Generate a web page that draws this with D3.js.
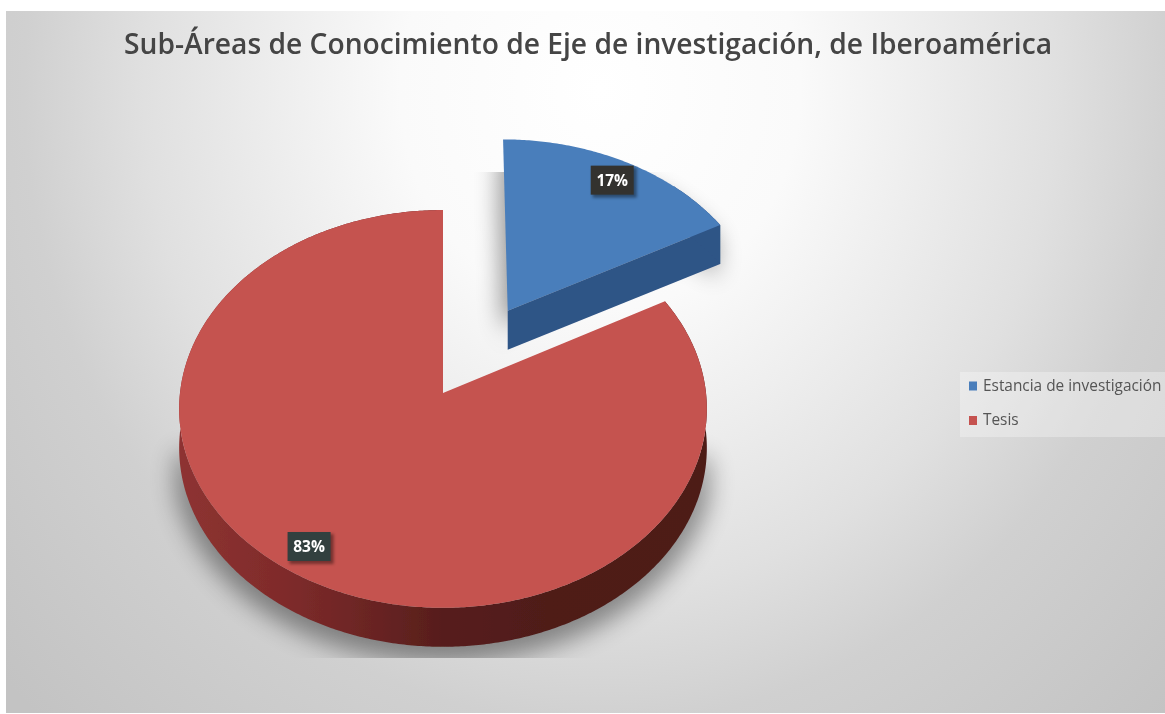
<!DOCTYPE html>
<html>
<head>
<meta charset="utf-8">
<script src="https://d3js.org/d3.v7.min.js"></script>
<style>
  html, body { margin: 0; padding: 0; background: #fff; }
  svg { display: block; }
</style>
</head>
<body>
<svg id="chart"></svg>
<script>
const categories = ['Estancia de investigación', 'Tesis'];
const shares = [17, 83];
const shareLabels = ['17%', '83%'];
const chartTitle = 'Sub-Áreas de Conocimiento de Eje de investigación, de Iberoamérica';

const WIDTH = 1165;
const HEIGHT = 714;
const PIE_X = 443;
const PIE_Y = 393;
const RADIUS_X = 263;
const RADIUS_Y = 197.6;
const PERSPECTIVE = 0.08;
const DEPTH = 39;
const EXPLODE = [0.5, 0];
const LABEL_RADIUS = [0.88, 0.87];
const LABEL_TURN = [0, 3];
const TOP_COLORS = ['#4a7ebb', '#c5524f'];
const SIDE_BLUE = '#2f5486';

const svg = d3.select('#chart').attr('width', WIDTH).attr('height', HEIGHT);
const defs = svg.append('defs');

const bg = defs.append('radialGradient')
  .attr('id', 'bg')
  .attr('gradientUnits', 'userSpaceOnUse')
  .attr('cx', 0).attr('cy', 0).attr('r', 1)
  .attr('gradientTransform', 'translate(600,90) scale(800,880)');
[[0, '#ffffff'], [0.25, '#fafafa'], [0.57, '#e0e0e0'], [0.72, '#d0d0d0'], [1, '#c3c3c3']]
  .forEach(([o, c]) => bg.append('stop').attr('offset', o).attr('stop-color', c));

const redSide = defs.append('linearGradient')
  .attr('id', 'red-side')
  .attr('gradientUnits', 'userSpaceOnUse')
  .attr('x1', 178).attr('x2', 705).attr('y1', 0).attr('y2', 0);
[[0, '#8e3331'], [0.2, '#7f2b2b'], [0.35, '#6c2524'], [0.5, '#571e1c'], [0.7, '#4f1b19'], [1, '#4e1b18']]
  .forEach(([o, c]) => redSide.append('stop').attr('offset', o).attr('stop-color', c));

defs.append('filter').attr('id', 'shadow-blur')
  .attr('x', '-30%').attr('y', '-30%').attr('width', '160%').attr('height', '160%')
  .append('feGaussianBlur').attr('stdDeviation', 12);
defs.append('filter').attr('id', 'soft')
  .attr('x', '-5%').attr('y', '-20%').attr('width', '110%').attr('height', '140%')
  .append('feGaussianBlur').attr('stdDeviation', 0.45);
defs.append('filter').attr('id', 'edge')
  .attr('x', '-5%').attr('y', '-5%').attr('width', '110%').attr('height', '110%')
  .append('feGaussianBlur').attr('stdDeviation', 0.6);
defs.append('filter').attr('id', 'label-shadow')
  .attr('x', '-30%').attr('y', '-30%').attr('width', '160%').attr('height', '160%')
  .append('feGaussianBlur').attr('stdDeviation', 1.5);

defs.append('clipPath').attr('id', 'clip-blue')
  .append('rect').attr('x', 0).attr('y', 172).attr('width', WIDTH).attr('height', 220);
defs.append('clipPath').attr('id', 'clip-red')
  .append('rect').attr('x', 0).attr('y', 300).attr('width', WIDTH).attr('height', 358);

svg.append('rect')
  .attr('x', 6).attr('y', 11)
  .attr('width', WIDTH - 6).attr('height', HEIGHT - 12)
  .attr('fill', 'url(#bg)');

svg.append('text')
  .attr('x', 588).attr('y', 54)
  .attr('text-anchor', 'middle')
  .attr('filter', 'url(#soft)')
  .style('font-family', '"Open Sans", sans-serif')
  .style('font-size', '28.2px')
  .style('font-weight', '600')
  .style('fill', '#444')
  .text(chartTitle);

// tilted disc: v > 0 is further away and so a bit smaller
function project(u, v) {
  const s = 1 / (1 + PERSPECTIVE * v);
  return [PIE_X + RADIUS_X * u * s, PIE_Y - RADIUS_Y * v * s];
}

const slices = d3.pie().sort(null)(shares).map((d, i) => {
  const mid = (d.startAngle + d.endAngle) / 2;
  const ox = EXPLODE[i] * Math.sin(mid);
  const oy = EXPLODE[i] * Math.cos(mid);
  const angles = d3.range(d.startAngle, d.endAngle, 0.01).concat(d.endAngle);
  return {
    i, mid, ox, oy, angles,
    apex: project(ox, oy),
    arc: angles.map(a => project(ox + Math.sin(a), oy + Math.cos(a)))
  };
});

const line = d3.line();
const shifted = pts => pts.map(p => [p[0], p[1] + DEPTH]);

function topFace(s) { return line([s.apex, ...s.arc]) + 'Z'; }
function sideBand(pts) { return line([...pts, ...shifted(pts).reverse()]) + 'Z'; }

const blue = slices[0];
const red = slices[1];

// only the front part of the red disc throws a shadow
const redFront = red.arc.filter((p, k) => {
  const a = red.angles[k];
  return a > 1.85 && a < 4.45;
});

// shadows first, cut off hard like in the source picture
const shadows = svg.append('g');
shadows.append('g').attr('clip-path', 'url(#clip-blue)')
  .append('path')
  .attr('d', topFace(blue) + sideBand([blue.apex, ...blue.arc]))
  .attr('transform', 'translate(-4,14)')
  .attr('fill', '#000').attr('opacity', 0.42)
  .attr('filter', 'url(#shadow-blur)');
shadows.append('g').attr('clip-path', 'url(#clip-red)')
  .append('path')
  .attr('d', line([...redFront, ...shifted(redFront).reverse()]) + 'Z')
  .attr('stroke', '#000').attr('stroke-width', 16)
  .attr('transform', 'translate(0,8)')
  .attr('fill', '#000').attr('opacity', 0.4)
  .attr('filter', 'url(#shadow-blur)');

const pieGroup = svg.append('g').attr('filter', 'url(#edge)');

pieGroup.append('path').attr('d', sideBand(red.arc)).attr('fill', 'url(#red-side)');
pieGroup.append('path').attr('d', topFace(red)).attr('fill', TOP_COLORS[1]);

pieGroup.append('path').attr('d', sideBand([blue.apex, ...blue.arc.slice(-1)])).attr('fill', SIDE_BLUE);
pieGroup.append('path').attr('d', sideBand(blue.arc.slice(-30))).attr('fill', SIDE_BLUE);
pieGroup.append('path').attr('d', topFace(blue)).attr('fill', TOP_COLORS[0]);

// data labels
const labels = svg.append('g')
  .selectAll('g')
  .data(slices)
  .enter()
  .append('g')
  .attr('transform', d => {
    const a = d.mid + LABEL_TURN[d.i] * Math.PI / 180;
    const r = LABEL_RADIUS[d.i];
    const p = project(d.ox + r * Math.sin(a), d.oy + r * Math.cos(a));
    return `translate(${p[0]},${p[1]})`;
  });

labels.append('rect')
  .attr('x', -19).attr('y', -11).attr('width', 44).attr('height', 30)
  .attr('fill', '#000').attr('opacity', 0.4)
  .attr('filter', 'url(#label-shadow)');
labels.append('rect')
  .attr('x', -21).attr('y', -13).attr('width', 43).attr('height', 29)
  .attr('fill', d => d.i === 0 ? '#33322f' : '#32403f');
labels.append('text')
  .attr('text-anchor', 'middle')
  .attr('y', 7)
  .attr('dx', 0.5)
  .attr('filter', 'url(#soft)')
  .style('font-family', '"Open Sans", sans-serif')
  .style('font-size', '15.5px')
  .style('font-weight', '700')
  .style('fill', '#fff')
  .text((d, i) => shareLabels[i]);

// legend sits tight against the right side
const legend = svg.append('g');
legend.append('rect')
  .attr('x', 960).attr('y', 372).attr('width', WIDTH - 960).attr('height', 65)
  .attr('fill', '#fff').attr('opacity', 0.3);

const legendY = d3.scalePoint().domain(categories).range([385.5, 420]);
const legendItems = legend.selectAll('g')
  .data(categories)
  .enter()
  .append('g')
  .attr('transform', d => `translate(969,${legendY(d)})`);

legendItems.append('rect')
  .attr('x', 0).attr('y', -4).attr('width', 8).attr('height', 9)
  .attr('fill', (d, i) => TOP_COLORS[i]);
legendItems.append('text')
  .attr('x', 14).attr('y', 5)
  .attr('filter', 'url(#soft)')
  .style('font-family', '"Open Sans", sans-serif')
  .style('font-size', '15.4px')
  .style('fill', '#555')
  .text(d => d);
</script>
</body>
</html>
